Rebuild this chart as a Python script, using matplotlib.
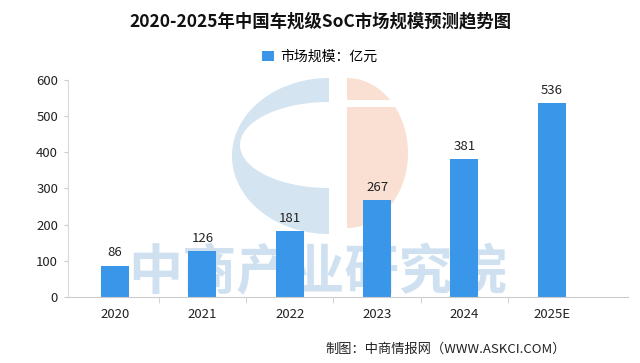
import matplotlib
matplotlib.use('Agg')
import matplotlib.pyplot as plt
from matplotlib.patches import Polygon
import numpy as np

plt.rcParams['font.family'] = ['Noto Sans CJK SC', 'DejaVu Sans']

years = ['2020', '2021', '2022', '2023', '2024', '2025E']
market_size = [86, 126, 181, 267, 381, 536]
title = '2020-2025年中国车规级SoC市场规模预测趋势图'
legend_label = '市场规模：亿元'
source = '制图：中商情报网（WWW.ASKCI.COM）'

bar_color = '#3a96e8'


def half_ellipse(cx, cy, rx, ry, t0, t1, n=80):
    t = np.linspace(np.radians(t0), np.radians(t1), n)
    return np.column_stack([cx + rx * np.cos(t), cy - ry * np.sin(t)])


fig = plt.figure(figsize=(6.4, 3.63), dpi=100)

# faint logo watermark behind the plot (pixel coords, y down)
bg = fig.add_axes([0, 0, 1, 1], zorder=0)
bg.set_xlim(0, 640)
bg.set_ylim(363, 0)
bg.axis('off')
outer = half_ellipse(329, 156, 97, 78, 90, 270)
inner = half_ellipse(329, 145, 89, 43, 270, 90)
bg.add_patch(Polygon(np.vstack([outer, inner]), closed=True, color='#d4e4f1', lw=0))
peach = half_ellipse(347, 153, 61, 75, -90, 90)
bg.add_patch(Polygon(peach, closed=True, color='#f9e0d3', lw=0))
bg.fill_between([345, 410], 100, 107, color='white', lw=0)
bg.text(318, 274, '中商产业研究院', fontsize=39, color='#c3daee', alpha=0.8,
        ha='center', va='center', fontweight='bold')

ax = fig.add_axes([0.106, 0.182, 0.875, 0.598], zorder=1)
ax.patch.set_alpha(0)
x = np.arange(len(years))
bars = ax.bar(x, market_size, width=0.32, color=bar_color, label=legend_label, zorder=2)
for xi, v in zip(x, market_size):
    ax.text(xi, v + 18, str(v), ha='center', va='bottom', fontsize=9.5, color='#222222')

ax.set_xlim(-0.54, 5.87)
ax.set_ylim(0, 600)
ax.set_yticks(range(0, 601, 100))
ax.set_xticks(x)
ax.set_xticklabels(years)
ax.set_xticks(x[:-1] + 0.5, minor=True)
ax.tick_params(axis='x', which='major', length=0, pad=8, labelsize=9.5, colors='#222222')
ax.tick_params(axis='x', which='minor', length=4, color='#cccccc')
ax.tick_params(axis='y', length=3, color='#cccccc', labelsize=9.5, labelcolor='#222222', pad=4)
for s in ['top', 'right']:
    ax.spines[s].set_visible(False)
ax.spines['left'].set_color('#d9d9d9')
ax.spines['bottom'].set_color('#cccccc')

fig.text(0.5, 0.94, title, ha='center', va='center', fontsize=12.5, fontweight='bold', color='#111111')
fig.legend(handles=[bars], labels=[legend_label], loc='center', bbox_to_anchor=(0.5, 0.843),
           frameon=False, fontsize=10, handlelength=0.8, handleheight=0.8, handletextpad=0.5)
fig.text(0.884, 0.037, source, ha='right', va='center', fontsize=9.5, color='#222222')

fig.savefig('out.png', dpi=100)
